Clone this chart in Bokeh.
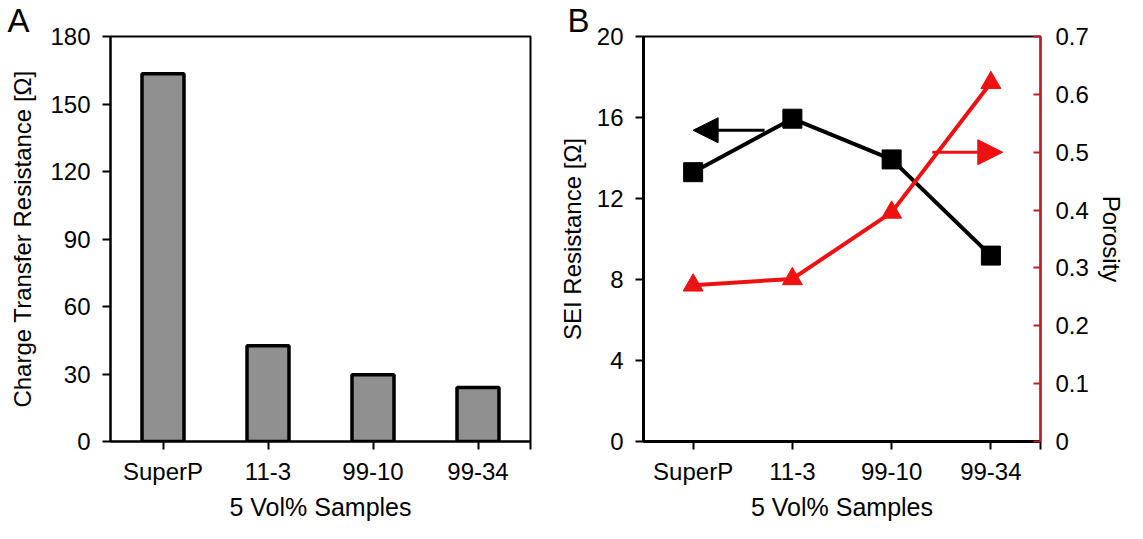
from bokeh.plotting import figure
from bokeh.models import (Range1d, LinearAxis, FixedTicker, Title, Arrow, NormalHead)
from bokeh.layouts import row
from bokeh.embed import file_html
from bokeh.resources import INLINE

# ---------------- data ----------------
categories = ["SuperP", "11-3", "99-10", "99-34"]
charge_transfer = [163.5, 42.6, 29.7, 24.0]          # Ohm (panel A)
sei_resistance = [13.3, 15.94, 13.93, 9.18]           # Ohm (panel B, left axis)
porosity = [0.27, 0.281, 0.396, 0.62]                 # (panel B, right axis)

a_yticks = [0, 30, 60, 90, 120, 150, 180]
b_yticks = [0, 4, 8, 12, 16, 20]
b_rticks = [0, 0.1, 0.2, 0.3, 0.4, 0.5, 0.6, 0.7]

# arrow annotations (which axis each series uses)
black_arrow = dict(x_start=0.72, x_end=0.0, y=15.37)
red_arrow = dict(x_start=2.41, x_end=3.12, y=0.5)

xs = list(range(len(categories)))
FONT = "Liberation Sans"
FS_TICK = "24px"
FS_XT = "25px"
FS_YT = "24px"
RED = "#ee1111"
AXRED = "#b8202a"

x_ticks = xs + [len(categories) - 0.5]
x_over = {i: c for i, c in zip(xs, categories)}
x_over[len(categories) - 0.5] = ""


def style_axis(ax, title_size):
    ax.major_label_text_font = FONT
    ax.major_label_text_font_size = FS_TICK
    ax.major_label_text_color = "black"
    ax.axis_label_text_font = FONT
    ax.axis_label_text_font_size = title_size
    ax.axis_label_text_font_style = "normal"
    ax.axis_label_text_color = "black"
    ax.minor_tick_line_color = None
    ax.major_tick_line_color = "black"
    ax.axis_line_color = "black"


def style_xaxis(ax, line_w):
    style_axis(ax, FS_XT)
    ax.ticker = FixedTicker(ticks=x_ticks)
    ax.major_label_overrides = x_over
    ax.axis_label = "5 Vol% Samples"
    ax.major_tick_in = 0
    ax.major_tick_out = 8
    ax.major_tick_line_width = 2
    ax.axis_line_width = line_w
    ax.major_label_standoff = 8
    ax.axis_label_standoff = 5


def panel_title(p, letter, offset):
    p.title = Title(text=letter, align="left", offset=offset, standoff=-5,
                    text_font=FONT, text_font_size="33px",
                    text_font_style="normal", text_color="black",
                    vertical_align="bottom")


# ---------------- panel A ----------------
pA = figure(width=552, height=523, output_backend="svg",
            toolbar_location=None, x_range=Range1d(-0.5, 3.5),
            y_range=Range1d(0, 180), min_border_left=110, min_border_right=22,
            min_border_top=36, min_border_bottom=60)
pA.xgrid.visible = False
pA.ygrid.visible = False
pA.outline_line_color = "black"
pA.outline_line_width = 2
panel_title(pA, "A", -103)

pA.vbar(x=xs, top=charge_transfer, width=0.4, fill_color="#909090",
        line_color="black", line_width=3.5)

style_xaxis(pA.xaxis[0], 2)

ya = pA.yaxis[0]
style_axis(ya, FS_YT)
ya.ticker = FixedTicker(ticks=a_yticks)
ya.axis_label = "Charge Transfer Resistance [Ω]"
ya.major_tick_in = 0
ya.major_tick_out = 8
ya.major_tick_line_width = 2
ya.axis_line_width = 2
ya.major_label_standoff = 12
ya.axis_label_standoff = 11

# ---------------- panel B ----------------
pB = figure(width=575, height=523, output_backend="svg",
            toolbar_location=None, x_range=Range1d(-0.5, 3.5),
            y_range=Range1d(0, 20), min_border_left=91, min_border_right=81,
            min_border_top=36, min_border_bottom=60)
pB.xgrid.visible = False
pB.ygrid.visible = False
pB.outline_line_color = "black"
pB.outline_line_width = 2
pB.extra_y_ranges = {"right": Range1d(0, 0.7)}
panel_title(pB, "B", -76)

pB.line(xs, sei_resistance, line_color="black", line_width=4)
pB.scatter(xs, sei_resistance, marker="square", size=19, fill_color="black",
           line_color="black")
pB.line(xs, porosity, line_color=RED, line_width=4, y_range_name="right")
pB.scatter(xs, porosity, marker="triangle", size=20, fill_color=RED,
           line_color=RED, y_range_name="right")

pB.add_layout(Arrow(end=NormalHead(size=25, fill_color="black", line_color="black"),
                    x_start=black_arrow["x_start"], y_start=black_arrow["y"],
                    x_end=black_arrow["x_end"], y_end=black_arrow["y"],
                    line_color="black", line_width=3))
pB.add_layout(Arrow(end=NormalHead(size=25, fill_color=RED, line_color=RED),
                    x_start=red_arrow["x_start"], y_start=red_arrow["y"],
                    x_end=red_arrow["x_end"], y_end=red_arrow["y"],
                    line_color=RED, line_width=3, y_range_name="right"))

style_xaxis(pB.xaxis[0], 3)

yb = pB.yaxis[0]
style_axis(yb, FS_YT)
yb.ticker = FixedTicker(ticks=b_yticks)
yb.axis_label = "SEI Resistance [Ω]"
yb.major_tick_in = 0
yb.major_tick_out = 8
yb.major_tick_line_width = 2
yb.axis_line_width = 3
yb.major_label_standoff = 12
yb.axis_label_standoff = 8

rb = LinearAxis(y_range_name="right", axis_label="Porosity")
style_axis(rb, FS_YT)
rb.ticker = FixedTicker(ticks=b_rticks)
rb.major_label_overrides = {0: "0"}
rb.axis_line_color = AXRED
rb.axis_line_width = 2
rb.major_tick_line_color = AXRED
rb.major_tick_line_width = 2
rb.major_tick_in = 7
rb.major_tick_out = 0
rb.major_label_standoff = 15
rb.axis_label_standoff = 6
pB.add_layout(rb, "right")

layout = row(pA, pB)
open("out.html", "w").write(file_html(layout, INLINE))
